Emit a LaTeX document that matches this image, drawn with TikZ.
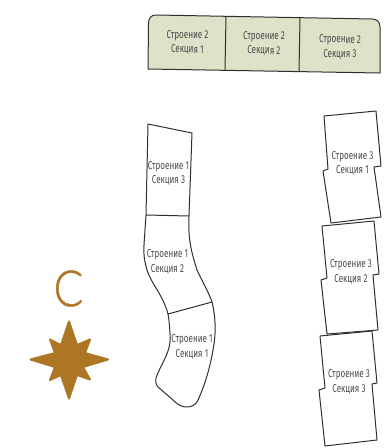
\documentclass[tikz,border=0pt]{standalone}
\usepackage{fontspec}
\setmainfont[FakeStretch=0.7]{Fira Sans}
\newfontfamily\letterfont[FakeStretch=0.88,FakeBold=0.8]{Lato Light}
\definecolor{ochre}{HTML}{AD7625}
\definecolor{sage}{HTML}{DDE3C9}
\definecolor{inkline}{HTML}{2E302C}
\definecolor{labelgrey}{HTML}{4A4A4A}
\tikzset{
  outline/.style={draw=inkline,line width=1pt,line join=round},
  lbl/.style={align=center,text=labelgrey,font=\fontsize{11.5}{14.5}\selectfont,inner sep=0pt},
}
\begin{document}
\begin{tikzpicture}[x=1pt,y=-1pt]
\useasboundingbox (0,0) rectangle (385,448);
% Building 2
\draw[outline,fill=sage] (148,69) -- (148.5,24) .. controls (148.5,18) and (151,15) .. (156,15)
  -- (372,19) .. controls (377,19.2) and (380,22) .. (380,27) -- (380,73) -- cycle;
\draw[outline] (226,17) -- (225,70);
\draw[outline] (300,18) -- (299,71.5);
\node[lbl,rotate=-1] (b2s1) at (187.5,42.5) {Строение 2\\Секция 1};
\node[lbl,rotate=-1] (b2s2) at (264,43.5) {Строение 2\\Секция 2};
\node[lbl,rotate=-1] (b2s3) at (340,47) {Строение 2\\Секция 3};
% Building 1
\draw[outline] (148,124) -- (192,133) -- (189,216)
  .. controls (188.5,235) and (189,245) .. (197,270)
  .. controls (203,283) and (209,293) .. (212,302)
  .. controls (216,318) and (216,335) .. (213,350)
  .. controls (210,368) and (204,388) .. (197,402)
  .. controls (192,409) and (181,409) .. (173,400)
  -- (158,387) .. controls (155.5,384) and (155.5,381) .. (156,378)
  .. controls (161,363) and (172,352) .. (170,333)
  .. controls (169.5,325) and (169,320) .. (168,314)
  .. controls (163,295) and (152,285) .. (147,270)
  .. controls (144,260) and (143.5,252) .. (144,245)
  -- (146,215) -- cycle;
\draw[outline] (146,215) -- (189,216);
\draw[outline] (168,314) -- (212,302);
\node[lbl] (b1s3) at (168.5,173.5) {Строение 1\\Секция 3};
\node[lbl] (b1s2) at (167.5,262) {Строение 1\\Секция 2};
\node[lbl] (b1s1) at (192,347) {Строение 1\\Секция 1};
% Building 3
\draw[outline] (324,116) -- (376,111) -- (381,166) -- (374,167) -- (381,217) -- (331,223)
  -- (323,171) -- (328,169) -- cycle;
\draw[outline] (322,226) -- (374,221) -- (379,274) -- (373,275) -- (378,330) -- (327,334)
  -- (321,280) -- (327,278) -- cycle;
\draw[outline] (320,336) -- (372,331) -- (377,383) -- (372,384) -- (377,440) -- (325,446)
  -- (319,390) -- (325,388) -- cycle;
\node[lbl] (b3s1) at (352.5,163.5) {Строение 3\\Секция 1};
\node[lbl] (b3s2) at (351,272) {Строение 3\\Секция 2};
\node[lbl] (b3s3) at (349,382) {Строение 3\\Секция 3};
% Compass
\node[text=ochre,inner sep=0pt,font=\letterfont\fontsize{50}{50}\selectfont] (north) at (68.5,288.5) {С};
\fill[ochre,line join=round,draw=ochre,line width=2pt]
  (69,321.5) -- (77,345) -- (90,339.5) -- (85,353) -- (108,359.5) -- (83,367)
  -- (90,379.5) -- (77,375) -- (69,398.5) -- (61,375) -- (50,380) -- (55,367)
  -- (30.5,359.5) -- (55,353) -- (50,339.5) -- (61,345) -- cycle;
\end{tikzpicture}
\end{document}
